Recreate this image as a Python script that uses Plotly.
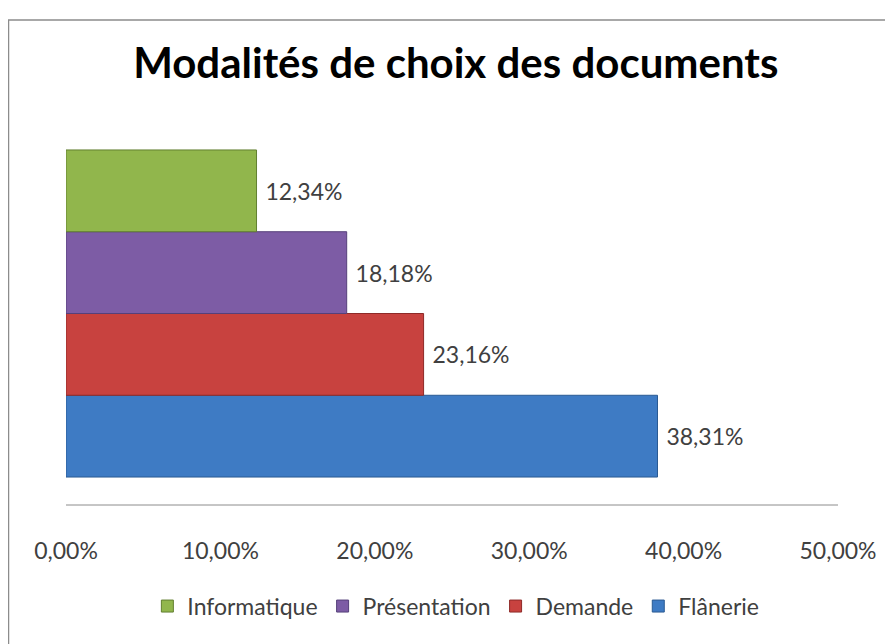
import plotly.graph_objects as go

# séries (valeurs en %)
series = ['Flânerie', 'Demande', 'Présentation', 'Informatique']
values = [38.31, 23.16, 18.18, 12.34]
colors = ['#3E7BC4', '#C8423F', '#7D5CA5', '#91B64C']
edges = ['#2A5A93', '#8E2A28', '#56407A', '#627F30']
x_ticks = [0, 10, 20, 30, 40, 50]
x_labels = [f'{t:.2f}%'.replace('.', ',') for t in x_ticks]

fig = go.Figure()

for name, v, c, e in zip(series, values, colors, edges):
    fig.add_trace(go.Bar(
        y=[''],
        x=[v],
        orientation='h',
        name=name,
        marker=dict(color=c, line=dict(color=e, width=1)),
        text=['\u00a0' + f'{v:.2f}%'.replace('.', ',')],
        textposition='outside',
        textfont=dict(family='Lato', size=23, color='#404040'),
        cliponaxis=False,
    ))

# la page ajoute une marge de 8 px autour de la figure
fig.update_layout(
    width=885, height=636,
    margin=dict(l=58, r=55, t=114, b=139),
    paper_bgcolor='white', plot_bgcolor='white',
    barmode='group', bargap=0.146,
    title=dict(text='<b>Modalités de choix des documents</b>',
               x=0.506, xanchor='center', y=1 - 55 / 636, yanchor='middle',
               font=dict(family='Lato', size=42, color='black')),
    font=dict(family='Lato', size=23, color='#404040'),
    showlegend=True,
    legend=dict(orientation='h', traceorder='reversed',
                x=0.505, xanchor='center', y=-0.264, yanchor='middle',
                font=dict(family='Lato', size=23, color='#404040'),
                itemwidth=30),
    xaxis=dict(range=[0, 50], tickvals=x_ticks, ticktext=x_labels,
               showgrid=False, zeroline=False, showline=False,
               ticks='', ticklabelstandoff=30,
               tickfont=dict(family='Lato', size=23, color='#404040')),
    yaxis=dict(range=[-0.5, 0.5], showticklabels=False, showgrid=False,
               zeroline=False, showline=False),
    shapes=[
        # ligne de l'axe horizontal
        dict(type='line', xref='paper', yref='paper', x0=0, x1=1, y0=0, y1=0,
             line=dict(color='#8C8C8C', width=1)),
        # cadre du graphique
        dict(type='rect', xref='paper', yref='paper',
             x0=(0.5 - 58) / 772, x1=(900 - 58) / 772,
             y0=(497 - 650) / 383, y1=(497 - 12) / 383,
             line=dict(color='#8C8C8C', width=1.5)),
    ],
)

fig.write_html('out.html')
